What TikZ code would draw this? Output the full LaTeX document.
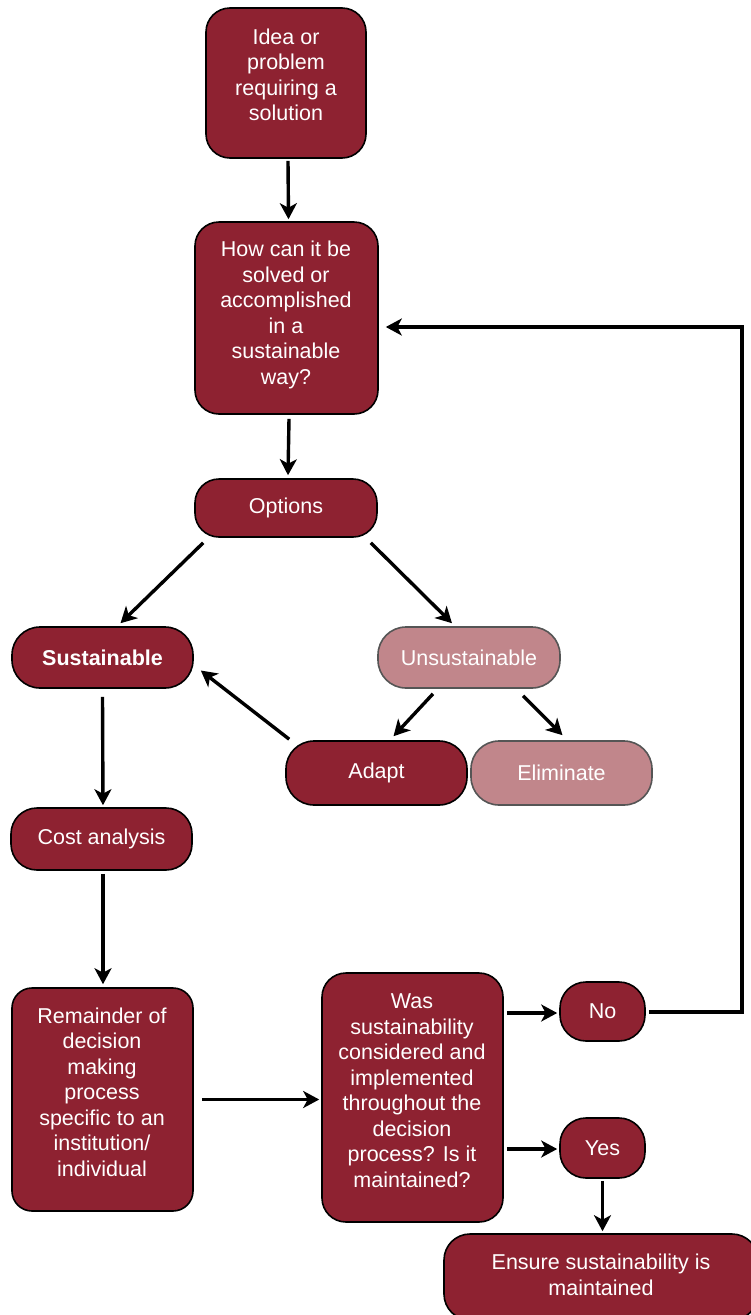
\documentclass[tikz,border=0pt]{standalone}
\usepackage{fontspec}
\setmainfont{Liberation Sans}
\usetikzlibrary{arrows.meta}
\definecolor{dred}{HTML}{8E2231}
\definecolor{lred}{HTML}{C1868B}
\definecolor{lborder}{HTML}{555555}
\begin{document}
\begin{tikzpicture}[x=1pt,y=-1pt,
 box/.style={draw=black, line width=1.6pt, fill=dred, text=white, align=center, inner sep=0pt, font=\fontsize{21.5}{25.5}\selectfont, rounded corners=24pt},
 lbox/.style={box, draw=lborder, fill=lred},
 txt/.style={text=white, align=center, inner sep=0pt, font=\fontsize{21.5}{25.5}\selectfont},
 arr/.style={-{Stealth[length=16pt,width=17pt,inset=4.5pt]}, line width=3.4pt, line join=miter}]
\useasboundingbox (0,0) rectangle (750,1315);

\node[box, minimum width=160pt, minimum height=150pt] (idea) at (286,83) {};
\node[txt] (ideaT) at (286,75) {Idea or\\problem\\requiring a\\solution};

\node[box, minimum width=183pt, minimum height=192pt] (how) at (286.5,318) {};
\node[txt] (howT) at (286,315) {How can it be\\solved or\\accomplished\\in a\\sustainable\\way?};

\node[box, minimum width=182pt, minimum height=58pt] (opt) at (286,508) {Options};

\node[box, minimum width=181pt, minimum height=61pt, rounded corners=28pt, font=\fontsize{21.5}{25.5}\selectfont\bfseries] (sust) at (102.5,657.5) {Sustainable};
\node[lbox, minimum width=182pt, minimum height=61pt, rounded corners=28pt] (unsust) at (469,657.5) {Unsustainable};

\node[box, minimum width=181pt, minimum height=64pt, rounded corners=28pt] (adapt) at (376.5,773) {Adapt};
\node[lbox, minimum width=181pt, minimum height=64pt, rounded corners=28pt] (elim) at (561.5,773) {Eliminate};

\node[box, minimum width=181pt, minimum height=62pt, rounded corners=26pt] (cost) at (101.5,839) {Cost analysis};

\node[box, minimum width=181pt, minimum height=223pt, rounded corners=20pt] (rem) at (102.5,1099.5) {};
\node[txt] (remT) at (102,1092) {Remainder of\\decision\\making\\process\\specific to an\\institution/\\individual};

\node[box, minimum width=181pt, minimum height=249pt, rounded corners=24pt] (was) at (412.5,1097.5) {};
\node[txt] (wasT) at (412,1090.5) {Was\\sustainability\\considered and\\implemented\\throughout the\\decision\\process? Is it\\maintained?};

\node[box, minimum width=85pt, minimum height=59pt, rounded corners=26pt] (no) at (602.5,1011.5) {No};
\node[box, minimum width=85pt, minimum height=60pt, rounded corners=26pt] (yes) at (602.5,1148) {Yes};

\node[box, minimum width=314pt, minimum height=86pt, rounded corners=26pt] (ens) at (601,1277) {};
\node[txt] (ensT) at (601,1275) {Ensure sustainability is\\maintained};

\coordinate (c2) at (742,327);

% connectors
\draw[arr] ([xshift=2pt,yshift=-2pt]idea.south) -- ([xshift=2pt,yshift=2pt]how.north);
\draw[arr] ([xshift=2.5pt,yshift=-4pt]how.south) -- ([xshift=2pt,yshift=3pt]opt.north);
\draw[arr] ([xshift=9pt,yshift=-5pt]opt.south west) -- ([xshift=18pt,yshift=3pt]sust.north);
\draw[arr] ([xshift=-7pt,yshift=-5pt]opt.south east) -- ([xshift=-17pt,yshift=3pt]unsust.north);
\draw[arr] ([xshift=-36pt,yshift=-5pt]unsust.south) -- ([xshift=17pt,yshift=4pt]adapt.north);
\draw[arr] ([xshift=54pt,yshift=-7pt]unsust.south) -- ([xshift=1pt,yshift=5pt]elim.north);
\draw[arr] ([xshift=4pt,yshift=1pt]adapt.north west) -- ([xshift=7pt,yshift=-13pt]sust.east);
\draw[arr] ([yshift=-8pt]sust.south) -- ([xshift=1.5pt,yshift=2pt]cost.north);
\draw[arr] ([xshift=1.5pt,yshift=-3pt]cost.south) -- ([xshift=0.5pt,yshift=3pt]rem.north);
\draw[arr] ([xshift=8pt]rem.east) -- ([xshift=-2pt]rem.east -| was.west);
\draw[arr, shorten <=3pt, shorten >=2pt] ([yshift=-1.5pt]no.west -| was.east) -- ([yshift=-1.5pt]no.west);
\draw[arr, shorten <=3pt, shorten >=2pt] ([yshift=-1pt]yes.west -| was.east) -- ([yshift=-1pt]yes.west);
\draw[arr, shorten <=2pt, shorten >=2pt] (yes.south) -- (yes.south |- ens.north);
\draw[arr, shorten <=3pt, shorten >=7pt] ([yshift=-0.5pt]no.east) -| (c2) -- (how.east |- c2);
\end{tikzpicture}
\end{document}
